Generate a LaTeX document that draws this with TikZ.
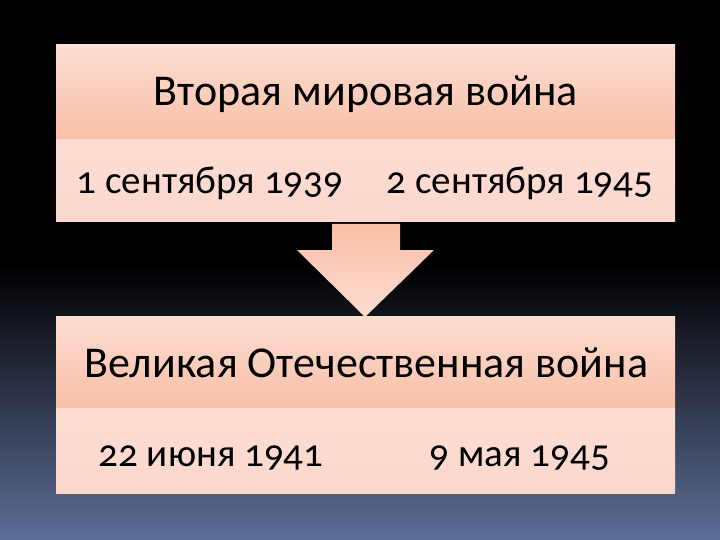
\documentclass[tikz,border=0pt]{standalone}
\usepackage{fontspec}
\setmainfont{Carlito}[Numbers=OldStyle]
\definecolor{bgblue}{HTML}{5F6E97}
\definecolor{pinkA}{HTML}{FCDDD2}
\definecolor{pinkB}{HTML}{F9BFA7}
\definecolor{pinkC}{HTML}{FDDDD3}
\definecolor{pinkD}{HTML}{FCD8CC}
\tikzset{
  hdr/.style={minimum width=619pt, inner sep=0pt, top color=pinkA, bottom color=pinkB},
  daterow/.style={minimum width=619pt, inner sep=0pt, top color=pinkC, bottom color=pinkD},
  bigtxt/.style={anchor=base, inner sep=0pt, font=\fontsize{44}{44}\selectfont, text=black},
  datetxt/.style={anchor=base, inner sep=0pt, font=\fontsize{39}{39}\selectfont, text=black},
  arrowfill/.style={top color=pinkB, bottom color=pinkA}
}
\begin{document}
\begin{tikzpicture}[x=1pt,y=-1pt]
\useasboundingbox (0,0) rectangle (720,540);
\fill[black] (0,0) rectangle (720,540);
\shade[top color=black, bottom color=bgblue] (0,265) rectangle (720,540);
% top block
\node[hdr, minimum height=95pt] (h1) at (365.5,92.5) {};
\node[daterow, minimum height=82pt] (d1) at (365.5,181) {};
\node[bigtxt] (t1) at (366,106) {Вторая мировая война};
\node[datetxt] (a1) at (210,194) {1 сентября 1939};
\node[datetxt] (b1) at (520,194) {2 сентября 1945};
% arrow
\fill[arrowfill] (332,224) -- (400,224) -- (400,250) -- (434,250) -- (365,317) -- (297,250) -- (332,250) -- cycle;
% bottom block
\node[hdr, minimum height=92pt] (h2) at (365.5,362) {};
\node[daterow, minimum height=85pt] (d2) at (365.5,450.5) {};
\node[bigtxt] (t2) at (366.5,377) {Великая Отечественная война};
\node[datetxt] (a2) at (211,466) {22 июня 1941};
\node[datetxt] (b2) at (520,466) {9 мая 1945};
\end{tikzpicture}
\end{document}
